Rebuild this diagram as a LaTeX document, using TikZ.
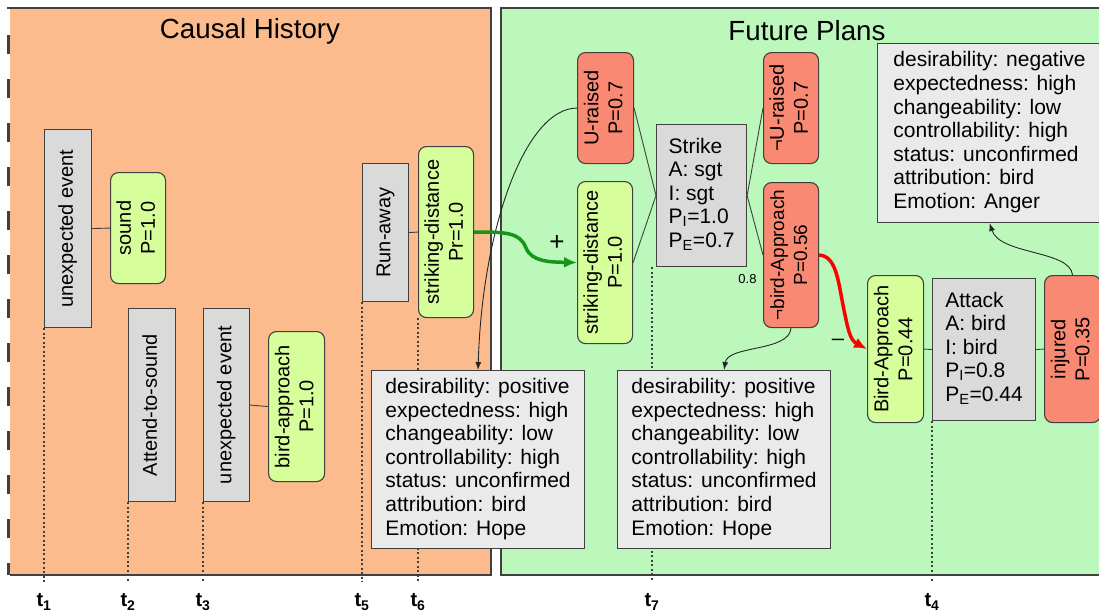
\documentclass[tikz,border=0pt]{standalone}
\usepackage{fontspec}
\setmainfont{Liberation Sans}
\usepackage{graphicx}
\usetikzlibrary{arrows.meta,calc}

\definecolor{histfill}{RGB}{251,187,140}
\definecolor{planfill}{RGB}{188,248,188}
\definecolor{actfill}{RGB}{218,218,218}
\definecolor{notefill}{RGB}{234,234,234}
\definecolor{goodfill}{RGB}{214,254,154}
\definecolor{badfill}{RGB}{249,137,114}
\definecolor{edgegray}{RGB}{64,64,64}
\definecolor{plusgreen}{RGB}{22,150,22}

% two-line label set sideways, read from bottom to top
\newcommand\vlabel[1]{\rotatebox{90}{\begin{tabular}{@{}c@{}}#1\end{tabular}}}
% left-aligned block of lines
\newcommand\lines[1]{\begin{tabular}{@{}l@{}}#1\end{tabular}}

\pgfdeclarelayer{panels}
\pgfdeclarelayer{ticks}
\pgfsetlayers{panels,ticks,main}

\begin{document}
\begin{tikzpicture}[x=1pt,y=-1pt,
  font=\fontsize{20}{24}\selectfont,
  nodebox/.style={draw=edgegray,line width=1.1pt,inner sep=0pt,anchor=north west},
  act/.style={nodebox,fill=actfill},
  good/.style={nodebox,fill=goodfill,rounded corners=8pt},
  bad/.style={nodebox,fill=badfill,rounded corners=8pt},
  actlist/.style={act,font=\fontsize{21}{23.6}\selectfont},
  note/.style={draw=edgegray,line width=1.1pt,fill=notefill,anchor=north west,
    inner sep=0pt,font=\fontsize{21}{23.6}\selectfont},
  link/.style={draw=edgegray,line width=0.9pt},
  tick/.style={draw=edgegray,line width=1.1pt,dash pattern=on 2pt off 2.5pt},
  tlabel/.style={font=\bfseries\fontsize{20}{24}\selectfont},
  cue/.style={draw=black!85,line width=0.9pt,-{Latex[length=8pt,width=6pt]}},
  strong/.style={line width=3.5pt,-{Latex[length=13pt,width=11pt]}},
  title/.style={font=\fontsize{27.7}{33}\selectfont}]

\useasboundingbox (0,0) rectangle (1099,611);

% the two panels
\begin{pgfonlayer}{panels}
  \fill[histfill] (10,8) rectangle (491,575);
  \draw[edgegray,line width=1.5pt] (7,8) -- (491,8) -- (491,575) -- (10,575);
  \draw[edgegray,line width=3pt,dash pattern=on 19pt off 25pt] (8,35) -- (8,575);
  \fill[planfill] (501,8) rectangle (1110,575);
  \draw[edgegray,line width=1.5pt] (1110,8) -- (501,8) -- (501,575) -- (1110,575);
\end{pgfonlayer}

\node[title] (histtitle) at (250,31) {Causal History};
\node[title] (plantitle) at (807,31) {Future Plans};

% causal history
\node[act,minimum width=47pt,minimum height=198pt] (ue1) at (44,129) {\vlabel{unexpected event}};
\node[good,minimum width=55pt,minimum height=111pt] (sound) at (110,172) {\vlabel{sound\\P=1.0}};
\node[act,minimum width=47pt,minimum height=193pt] (att) at (128,308) {\vlabel{Attend-to-sound}};
\node[act,minimum width=46pt,minimum height=193pt] (ue2) at (203,308) {\vlabel{unexpected event}};
\node[good,minimum width=56pt,minimum height=150pt] (birdapp) at (268,331) {\vlabel{bird-approach\\P=1.0}};
\node[act,minimum width=46pt,minimum height=138pt] (runaway) at (362,163) {\vlabel{Run-away}};
\node[good,minimum width=55pt,minimum height=171pt] (sd1) at (418,146) {\vlabel{striking-distance\\Pr=1.0}};

% future plans
\node[bad,minimum width=56pt,minimum height=111pt] (uraised) at (577,52) {\vlabel{U-raised\\P=0.7}};
\node[good,minimum width=55pt,minimum height=162pt] (sd2) at (577,181) {\vlabel{striking-distance\\P=1.0}};
\node[actlist,minimum width=90pt,minimum height=142pt] (strike) at (656,124)
  {\lines{Strike\\A: sgt\\I: sgt\\P\textsubscript{I}=1.0\\P\textsubscript{E}=0.7}\hspace{12pt}};
\node[bad,minimum width=55pt,minimum height=111pt] (nuraised) at (763,52) {\vlabel{¬U-raised\\P=0.7}};
\node[bad,minimum width=55pt,minimum height=145pt,font=\fontsize{19}{23}\selectfont] (nbird) at (763,182)
  {\vlabel{¬bird-Approach\\P=0.56}};
\node[good,minimum width=56pt,minimum height=147pt] (birdA) at (867,275) {\vlabel{Bird-Approach\\P=0.44}};
\node[actlist,minimum width=103pt,minimum height=142pt] (attack) at (932,278)
  {\lines{Attack\\A: bird\\I: bird\\P\textsubscript{I}=0.8\\P\textsubscript{E}=0.44}\hspace{8pt}};
\node[bad,minimum width=56pt,minimum height=147pt] (injured) at (1044,275) {\vlabel{injured\\P=0.35}};

% appraisal frames
\node[note,minimum width=213pt,minimum height=178pt] (d1) at (371,370)
  {\lines{desirability: positive\\expectedness: high\\changeability: low\\controllability: high\\status: unconfirmed\\attribution: bird\\Emotion: Hope}};
\node[note,minimum width=213pt,minimum height=178pt] (d2) at (617,370)
  {\lines{desirability: positive\\expectedness: high\\changeability: low\\controllability: high\\status: unconfirmed\\attribution: bird\\Emotion: Hope}};
\node[note,minimum width=224pt,minimum height=179pt] (d3) at (877,43)
  {\lines{desirability: negative\\expectedness: high\\changeability: low\\controllability: high\\status: unconfirmed\\attribution: bird\\Emotion: Anger}\hspace{6pt}};

% time axis
\coordinate (axis) at (0,582);
\coordinate (lab) at (0,602);
\coordinate (t7top) at ($(strike.south west)+(-4,0)$);
\begin{pgfonlayer}{ticks}
  \draw[tick] (ue1.south west) -- (ue1.south west |- axis);
  \draw[tick] (att.south west) -- (att.south west |- axis);
  \draw[tick] (ue2.south west) -- (ue2.south west |- axis);
  \draw[tick] (runaway.south west) -- (runaway.south west |- axis);
  \draw[tick] (sd1.south west) -- (sd1.south west |- axis);
  \draw[tick] (t7top) -- (t7top |- axis);
  \draw[tick] (attack.south west) -- (attack.south west |- axis);
\end{pgfonlayer}
\node[tlabel] (t1) at (ue1.south west |- lab) {t\textsubscript{1}};
\node[tlabel] (t2) at (att.south west |- lab) {t\textsubscript{2}};
\node[tlabel] (t3) at (ue2.south west |- lab) {t\textsubscript{3}};
\node[tlabel] (t5) at (runaway.south west |- lab) {t\textsubscript{5}};
\node[tlabel] (t6) at (sd1.south west |- lab) {t\textsubscript{6}};
\node[tlabel] (t7) at (t7top |- lab) {t\textsubscript{7}};
\node[tlabel] (t4) at (attack.south west |- lab) {t\textsubscript{4}};

% plain links
\draw[link] (ue1.east) -- (sound.west);
\draw[link] (ue2.east) -- (birdapp.west);
\draw[link] (runaway.east) -- (sd1.west);
\draw[link] (uraised.east) -- (strike.west);
\draw[link] (sd2.east) -- (strike.west);
\draw[link] (strike.east) -- (nuraised.west);
\draw[link] (strike.east) -- (nbird.west);
\draw[link] (birdA.east) -- (attack.west);
\draw[link] (attack.east) -- (injured.west);

% appraisal cues
\draw[cue] (uraised.west) .. controls (525,108) and (482,230) .. (d1.north);
\draw[cue] (nbird.south) .. controls (789,352) and (728,345) .. (d2.north);
\draw[cue] (injured.north) .. controls (1070,250) and (1000,255) .. (d3.south);

% influences
\draw[strong,plusgreen] (sd1.east) .. controls (505,232) and (520,232) .. (526,248)
  .. controls (532,262) and (550,262) .. (sd2.west);
\draw[strong,red] (nbird.east) .. controls (836,256) and (838,280) .. (843,305)
  .. controls (848,330) and (850,340) .. (birdA.west);

\node[font=\fontsize{26}{30}\selectfont] (plus) at (557,243) {+};
\node[font=\fontsize{22}{26}\selectfont] (minus) at (838,342) {–};
\node[font=\fontsize{13}{15}\selectfont] (prob) at (747.5,279) {0.8};

\end{tikzpicture}
\end{document}
